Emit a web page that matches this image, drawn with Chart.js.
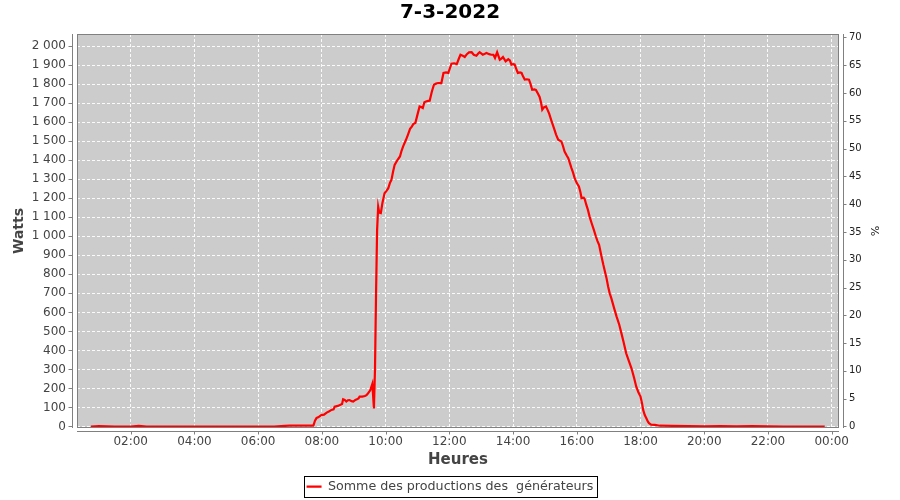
<!DOCTYPE html>
<html>
<head>
<meta charset="utf-8">
<script src="https://cdn.jsdelivr.net/npm/chart.js@4"></script>
<style>
html,body{margin:0;padding:0;background:#fff;}
canvas{display:block;}
</style>
</head>
<body>
<canvas id="c" width="900" height="500"></canvas>
<script>
const chartTitle = "7-3-2022";
const seriesName = "Somme des productions des  générateurs";
const xTitle = "Heures";
const yTitle = "Watts";
const y2Title = "%";

const times = ["00:45","01:00","01:30","02:00","02:15","02:30","03:00","03:30","04:00","04:30","05:00","05:30","06:00","06:30","06:50","07:00","07:15","07:30","07:44","07:47","07:50","07:53","07:59","08:04","08:09","08:14","08:18","08:22","08:24","08:30","08:34","08:38","08:40","08:43","08:46","08:49","08:52","08:56","08:59","09:03","09:06","09:09","09:11","09:16","09:21","09:24","09:27","09:31","09:35","09:38","09:40","09:42","09:44","09:46","09:48","09:51","09:54","09:58","10:02","10:05","10:08","10:11","10:14","10:17","10:22","10:27","10:30","10:33","10:38","10:42","10:46","10:49","10:52","10:56","11:00","11:04","11:07","11:10","11:13","11:16","11:20","11:23","11:27","11:31","11:35","11:39","11:45","11:49","11:54","11:58","12:04","12:09","12:14","12:18","12:21","12:25","12:29","12:33","12:37","12:42","12:46","12:51","12:54","12:57","13:03","13:07","13:10","13:15","13:19","13:23","13:26","13:30","13:35","13:38","13:41","13:46","13:51","13:54","13:57","14:00","14:03","14:06","14:09","14:13","14:16","14:19","14:22","14:26","14:30","14:33","14:36","14:40","14:43","14:47","14:50","14:53","14:55","14:58","15:02","15:05","15:08","15:12","15:17","15:21","15:25","15:31","15:34","15:37","15:41","15:44","15:47","15:50","15:53","15:56","16:00","16:04","16:07","16:09","16:13","16:15","16:18","16:21","16:24","16:28","16:32","16:36","16:39","16:42","16:45","16:48","16:50","16:53","16:56","16:59","17:02","17:05","17:10","17:15","17:20","17:24","17:28","17:33","17:38","17:43","17:48","17:52","17:56","18:00","18:03","18:05","18:08","18:11","18:14","18:16","18:20","18:27","18:36","19:00","19:30","20:00","20:30","21:00","21:30","22:00","22:30","23:00","23:30","23:47"];

const watts = [0,2,0,0,3,0,0,0,0,0,0,0,0,0,3,5,4,5,5,30,45,48,60,62,73,80,87,90,104,108,113,118,143,140,131,138,139,133,131,140,143,148,157,157,160,165,175,190,224,95,300,700,1034,1155,1125,1122,1175,1227,1240,1253,1280,1297,1340,1376,1400,1420,1450,1473,1505,1534,1565,1575,1590,1596,1640,1683,1680,1675,1705,1709,1712,1713,1760,1797,1803,1806,1806,1859,1862,1859,1908,1910,1906,1935,1955,1950,1943,1958,1967,1968,1955,1950,1960,1968,1955,1960,1964,1958,1955,1955,1938,1968,1929,1935,1943,1920,1932,1925,1903,1905,1904,1880,1859,1862,1859,1840,1824,1826,1824,1800,1771,1773,1770,1750,1733,1700,1666,1678,1683,1665,1645,1610,1569,1535,1508,1499,1475,1446,1425,1411,1385,1359,1335,1306,1280,1262,1230,1201,1203,1195,1165,1139,1105,1069,1035,999,975,955,915,876,850,815,780,736,700,675,625,578,535,491,445,385,345,306,255,209,180,157,120,87,60,43,25,17,10,8,4,3,2,1,2,1,2,1,0,0,0,0];

const xTickHours = [2,4,6,8,10,12,14,16,18,20,22,24];
const wattTicks = [0,100,200,300,400,500,600,700,800,900,1000,1100,1200,1300,1400,1500,1600,1700,1800,1900,2000];
const pctTicks = [0,5,10,15,20,25,30,35,40,45,50,55,60,65,70];
const wattsPerPercent = 29.23;

const xRange = [0.314, 24.23];
const wattRange = [-8, 2064];

function toHours(t) { const p = t.split(":"); return Number(p[0]) + Number(p[1]) / 60; }
const points = times.map((t, i) => ({ x: toHours(t), y: watts[i] }));

const PLOT_LEFT = 77, PLOT_RIGHT_W = 61, PLOT_BOTTOM = 428, AXIS_OFF = 4, LEGEND_SHIFT = 3;
const gridColor = "rgba(255,255,255,0.9)";
const frameColor = "#808080";

Chart.defaults.font.family = "'DejaVu Sans', sans-serif";

const framePlugin = {
  id: "framePlugin",
  afterLayout(chart) {
    const lg = chart.legend;
    if (lg) { lg.top += LEGEND_SHIFT; lg.bottom += LEGEND_SHIFT; }
  },
  beforeDraw(chart) {
    const { ctx, chartArea: a } = chart;
    ctx.save();
    ctx.fillStyle = "#cccccc";
    ctx.fillRect(a.left, a.top, a.right - a.left, a.bottom - a.top);
    ctx.restore();
  },
  afterDraw(chart) {
    const { ctx, chartArea: a, scales } = chart;
    ctx.save();
    ctx.strokeStyle = frameColor;
    ctx.lineWidth = 1;
    ctx.strokeRect(a.left + 0.5, a.top + 0.5, a.right - a.left - 1, a.bottom - a.top - 1);
    ctx.beginPath();
    const lx = a.left - AXIS_OFF - 0.5;
    ctx.moveTo(lx, a.top); ctx.lineTo(lx, a.bottom);
    scales.y.ticks.forEach(t => {
      const py = Math.round(scales.y.getPixelForValue(t.value)) + 0.5;
      ctx.moveTo(lx - 4, py); ctx.lineTo(lx, py);
    });
    const rx = a.right + AXIS_OFF + 0.5;
    ctx.moveTo(rx, a.top); ctx.lineTo(rx, a.bottom);
    scales.y2.ticks.forEach(t => {
      const py = Math.round(scales.y2.getPixelForValue(t.value)) + 0.5;
      ctx.moveTo(rx, py); ctx.lineTo(rx + 3, py);
    });
    const by = a.bottom + AXIS_OFF - 0.5;
    ctx.moveTo(a.left, by); ctx.lineTo(a.right, by);
    scales.x.ticks.forEach(t => {
      const px = Math.round(scales.x.getPixelForValue(t.value)) + 0.5;
      ctx.moveTo(px, by); ctx.lineTo(px, by + 3);
    });
    ctx.stroke();
    const lg = chart.legend;
    if (lg && lg.legendHitBoxes && lg.legendHitBoxes.length) {
      const hb = lg.legendHitBoxes[0];
      ctx.strokeStyle = "#000";
      ctx.strokeRect(Math.round(hb.left - 3) + 0.5, Math.round(hb.top - 4) + 0.5,
                     Math.round(hb.width + 6), Math.round(hb.height + 8));
    }
    ctx.restore();
  }
};

new Chart(document.getElementById("c"), {
  type: "line",
  data: {
    datasets: [{
      label: seriesName,
      data: points,
      borderColor: "#ff0000",
      backgroundColor: "#ff0000",
      borderWidth: 2.2,
      pointRadius: 0,
      tension: 0,
      yAxisID: "y",
      xAxisID: "x"
    }]
  },
  options: {
    responsive: false,
    animation: false,
    layout: { padding: 0 },
    plugins: {
      title: {
        display: true,
        text: chartTitle,
        color: "#000",
        font: { size: 20, weight: "bold" },
        padding: { top: 1, bottom: 9 }
      },
      legend: {
        display: true,
        position: "bottom",
        labels: {
          color: "#444",
          font: { size: 12.7 },
          usePointStyle: true,
          pointStyle: "line",
          pointStyleWidth: 15,
          padding: 3
        }
      },
      tooltip: { enabled: false }
    },
    scales: {
      x: {
        type: "linear",
        position: "bottom",
        min: xRange[0],
        max: xRange[1],
        afterBuildTicks: s => { s.ticks = xTickHours.map(v => ({ value: v })); },
        afterFit: s => { s.height = s.chart.height - PLOT_BOTTOM - (s.chart.legend ? s.chart.legend.height : 19); },
        ticks: {
          autoSkip: false,
          maxRotation: 0,
          color: "#444",
          font: { size: 12 },
          padding: 7,
          callback: v => String(v % 24).padStart(2, "0") + ":00"
        },
        grid: { color: gridColor, drawTicks: false, lineWidth: 1 },
        border: { display: false, dash: [3, 2] },
        title: { display: true, text: xTitle, color: "#444", font: { size: 15, weight: "bold" }, padding: { top: 0, bottom: 5 } }
      },
      y: {
        type: "linear",
        position: "left",
        min: wattRange[0],
        max: wattRange[1],
        afterBuildTicks: s => { s.ticks = wattTicks.map(v => ({ value: v })); },
        afterFit: s => { s.width = PLOT_LEFT; },
        ticks: {
          autoSkip: false,
          color: "#444",
          font: { size: 12 },
          padding: 11,
          callback: v => String(v).replace(/\B(?=(\d{3})+(?!\d))/g, " ")
        },
        grid: { color: gridColor, drawTicks: false, lineWidth: 1 },
        border: { display: false, dash: [3, 2] },
        title: { display: true, text: yTitle, color: "#444", font: { size: 14, weight: "bold" }, padding: { top: 11, bottom: 0 } }
      },
      y2: {
        type: "linear",
        position: "right",
        min: wattRange[0] / wattsPerPercent,
        max: wattRange[1] / wattsPerPercent,
        afterBuildTicks: s => { s.ticks = pctTicks.map(v => ({ value: v })); },
        afterFit: s => { s.width = PLOT_RIGHT_W; },
        ticks: { autoSkip: false, color: "#222", font: { size: 10 }, padding: 10 },
        grid: { display: false, drawTicks: false },
        border: { display: false },
        title: { display: true, text: y2Title, color: "#222", font: { size: 11 }, padding: { top: 20, bottom: 0 } }
      }
    }
  },
  plugins: [framePlugin]
});
</script>
</body>
</html>
